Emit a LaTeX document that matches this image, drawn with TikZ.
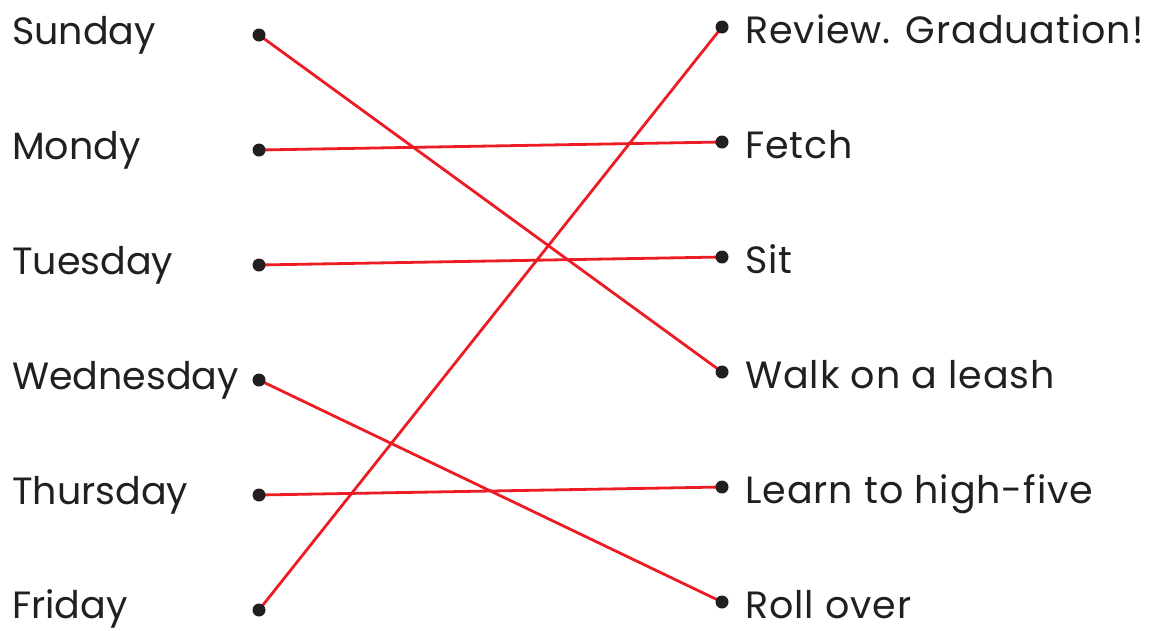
\documentclass[tikz,border=0pt]{standalone}
\usepackage{fontspec}
\setmainfont{Poppins}
\newfontfamily\spacedfont[LetterSpace=2.5]{Poppins}
\definecolor{ink}{HTML}{231F20}
\definecolor{redline}{HTML}{ED1C24}
\begin{document}
\begin{tikzpicture}[x=1pt,y=-1pt,
  lbl/.style={anchor=base west,inner sep=0pt,text=ink,font=\fontsize{38}{46}\selectfont},
  rlbl/.style={lbl,font=\spacedfont\fontsize{38}{46}\selectfont},
  dotn/.style={circle,fill=ink,inner sep=0pt,minimum size=13pt},
  link/.style={draw=redline,line width=2.8pt}]
\useasboundingbox (0,0) rectangle (1161,630);
% dot positions
\foreach \i/\y in {1/35,2/150,3/265,4/380,5/495,6/610}{
  \coordinate (L\i) at (259,\y);
}
\foreach \i/\y in {1/27,2/142,3/257,4/372,5/487,6/602}{
  \coordinate (R\i) at (722,\y);
}
% labels
\node[lbl] (d1) at (12,44) {Sunday};
\node[lbl] (d2) at (12,159) {Mondy};
\node[lbl] (d3) at (12,274) {Tuesday};
\node[lbl] (d4) at (12,389) {Wednesday};
\node[lbl] (d5) at (12,504) {Thursday};
\node[lbl] (d6) at (12,618) {Friday};
\node[rlbl] (t1) at (745,43) {Review. Graduation!};
\node[rlbl] (t2) at (745,158) {Fetch};
\node[rlbl] (t3) at (745,273) {Sit};
\node[rlbl] (t4) at (745,388) {Walk on a leash};
\node[rlbl] (t5) at (745,503) {Learn to high-five};
\node[rlbl] (t6) at (745,618) {Roll over};
% connectors
\draw[link] (L1) -- (R4);
\draw[link] (L2) -- (R2);
\draw[link] (L3) -- (R3);
\draw[link] (L4) -- (R6);
\draw[link] (L5) -- (R5);
\draw[link] (L6) -- (R1);
% dots
\foreach \i in {1,...,6}{
  \node[dotn] (l\i) at (L\i) {};
  \node[dotn] (r\i) at (R\i) {};
}
\end{tikzpicture}
\end{document}
